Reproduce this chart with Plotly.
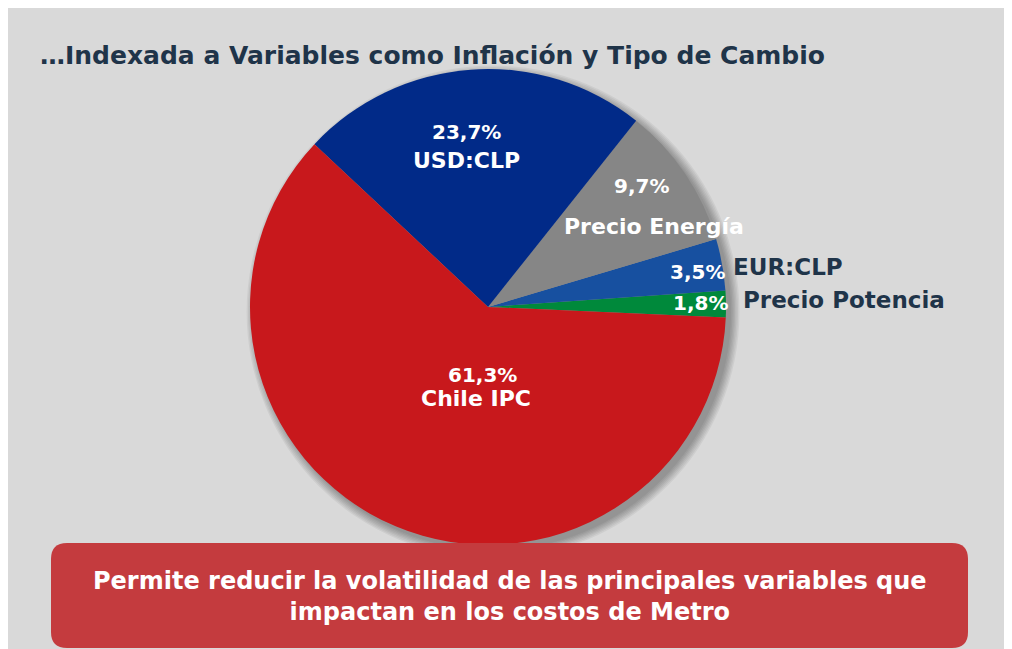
import math
import plotly.graph_objects as go

# ---------------- data ----------------
labels = ["Precio Potencia", "EUR:CLP", "Precio Energía", "USD:CLP", "Chile IPC"]
values = [1.8, 3.5, 9.7, 23.7, 61.3]
pct_text = ["1,8%", "3,5%", "9,7%", "23,7%", "61,3%"]
colors = ["#00893b", "#1750a0", "#868686", "#012a88", "#c8181c"]

title_text = "…Indexada a Variables como Inflación y Tipo de Cambio"
box_text = "Permite reducir la volatilidad de las principales variables que<br>impactan en los costos de Metro"

# ---------------- layout constants (page pixels) ----------------
PAGE_OFF = 8            # browser body margin
W, H = 1012 - PAGE_OFF, 649 - PAGE_OFF
CX, CY, R = 488, 307, 238
START_DEG = -2.5        # first slice starts slightly below 3 o'clock

FONT = "DejaVu Sans"
NAVY = "#1f3449"


def px(x):
    return (x - PAGE_OFF) / W


def py(y):
    return 1 - (y - PAGE_OFF) / H


total = sum(values)
first_span = values[0] / total * 360

fig = go.Figure()

# soft drop shadow: stacked translucent discs
for k in range(7):
    off_x, off_y, grow = 5, 5, k * 1.4
    r = R + grow
    fig.add_trace(go.Pie(
        values=[1], labels=["shadow"], sort=False,
        marker=dict(colors=["rgba(0,0,0,0.05)"]),
        textinfo="none", hoverinfo="skip", showlegend=False,
        domain=dict(x=[px(CX + off_x - r), px(CX + off_x + r)],
                    y=[py(CY + off_y + r), py(CY + off_y - r)]),
    ))

# plotly (counterclockwise) puts the first slice clockwise of the rotation point
fig.add_trace(go.Pie(
    labels=labels, values=values, sort=False,
    direction="counterclockwise", rotation=90 - START_DEG - first_span,
    marker=dict(colors=colors, line=dict(width=0)),
    textinfo="none", hoverinfo="label+percent", showlegend=False,
    domain=dict(x=[px(CX - R), px(CX + R)], y=[py(CY + R), py(CY - R)]),
))

# ---------------- labels, placed from slice mid-angles ----------------
mids = []
acc = START_DEG
for v in values:
    span = v / total * 360
    mids.append(acc + span / 2)
    acc += span

# percentage label: (radial fraction, angle nudge deg)
pct_pos = [(0.893, 0.4), (0.893, -0.8), (0.823, 4.2), (0.741, 2.7), (0.287, 18.6)]
# name label inside the slice (None -> written outside)
name_pos = [None, None, (0.774, -8.3), (0.624, 4.3), (0.386, 15.3)]
PCT_SIZE, NAME_SIZE = 20, 22

annotations = []


def polar(mid, rf, nudge):
    a = math.radians(mid + nudge)
    return CX + rf * R * math.cos(a), CY - rf * R * math.sin(a)


for i, mid in enumerate(mids):
    x, y = polar(mid, *pct_pos[i])
    annotations.append(dict(
        x=px(x), y=py(y), xref="paper", yref="paper", text=f"<b>{pct_text[i]}</b>",
        showarrow=False, xanchor="center", yanchor="middle",
        font=dict(family=FONT, size=PCT_SIZE, color="white"),
    ))
    if name_pos[i] is not None:
        x, y = polar(mid, *name_pos[i])
        annotations.append(dict(
            x=px(x), y=py(y), xref="paper", yref="paper", text=f"<b>{labels[i]}</b>",
            showarrow=False, xanchor="center", yanchor="middle",
            font=dict(family=FONT, size=NAME_SIZE, color="white"),
        ))

# outside names for the two thin slices
for i, gap, dy in [(0, 15, -4), (1, 9, 2.5)]:
    a = math.radians(mids[i])
    x = CX + R * math.cos(a) + gap
    y = CY - R * math.sin(a) + dy
    annotations.append(dict(
        x=px(x), y=py(y), xref="paper", yref="paper", text=f"<b>{labels[i]}</b>",
        showarrow=False, xanchor="left", yanchor="middle",
        font=dict(family=FONT, size=23, color=NAVY),
    ))

# title
annotations.append(dict(
    x=px(38), y=py(55), xref="paper", yref="paper", text=f"<b>{title_text}</b>",
    showarrow=False, xanchor="left", yanchor="middle",
    font=dict(family=FONT, size=25, color=NAVY),
))

# box text
BX0, BX1, BY0, BY1, RAD = 51, 968, 543, 648, 16
annotations.append(dict(
    x=px((BX0 + BX1) / 2), y=py(596), xref="paper", yref="paper",
    text=f"<b>{box_text}</b>", showarrow=False, xanchor="center", yanchor="middle",
    font=dict(family=FONT, size=24, color="white"), align="center",
))


def rounded_rect(x0, y0, x1, y1, r):
    def P(x, y):
        return f"{px(x):.5f},{py(y):.5f}"
    return (f"M {P(x0 + r, y0)} L {P(x1 - r, y0)} Q {P(x1, y0)} {P(x1, y0 + r)} "
            f"L {P(x1, y1 - r)} Q {P(x1, y1)} {P(x1 - r, y1)} "
            f"L {P(x0 + r, y1)} Q {P(x0, y1)} {P(x0, y1 - r)} "
            f"L {P(x0, y0 + r)} Q {P(x0, y0)} {P(x0 + r, y0)} Z")


shapes = [
    dict(type="path", xref="paper", yref="paper", path=rounded_rect(BX0, BY0, BX1, BY1, RAD),
         fillcolor="#c43b3e", line=dict(width=0)),
]

fig.update_layout(
    width=W, height=H,
    margin=dict(l=0, r=0, t=0, b=0),
    paper_bgcolor="#d9d9d9", plot_bgcolor="#d9d9d9",
    shapes=shapes, annotations=annotations,
    showlegend=False,
)

fig.write_html("out.html")
